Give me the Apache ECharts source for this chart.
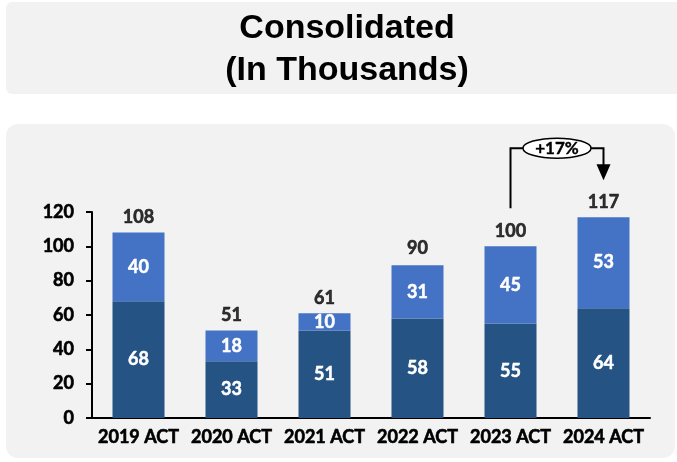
<!DOCTYPE html>
<html>
<head>
<meta charset="utf-8">
<script src="https://cdn.jsdelivr.net/npm/echarts@6/dist/echarts.min.js"></script>
<style>
  html, body { margin: 0; padding: 0; background: #ffffff; }
  #chart { width: 677px; height: 462px; }
</style>
</head>
<body>
<div id="chart"></div>
<script>
// chart data
var years = ["2019 ACT", "2020 ACT", "2021 ACT", "2022 ACT", "2023 ACT", "2024 ACT"];
var baseValues = [68, 33, 51, 58, 55, 64];
var topValues = [40, 18, 10, 31, 45, 53];
var totals = [108, 51, 61, 90, 100, 117];
var growthLabel = "+17%";

var numFont = "Lato";
var numWeight = "bold";
var darkBlue = "#245384";
var lightBlue = "#4472c4";

var myChart = echarts.init(document.getElementById("chart"));

var panels = [
  { type: "rect", z: -10, shape: { x: 6, y: 2, width: 690, height: 92, r: 6 }, style: { fill: "#f2f2f2" } },
  { type: "rect", z: -10, shape: { x: 6, y: 124, width: 669, height: 334, r: 12 }, style: { fill: "#f2f2f2" } }
];

// dark labels get a thin stroke so they look as heavy as the original
function darkText(extra) {
  return Object.assign({
    color: "#000",
    fontFamily: numFont,
    fontWeight: numWeight,
    fontSize: 18,
    textBorderColor: "#000",
    textBorderWidth: 0.6
  }, extra || {});
}

var option = {
  animation: false,
  backgroundColor: "#ffffff",
  title: {
    text: "Consolidated\n(In Thousands)",
    left: 342,
    top: 3,
    textAlign: "center",
    textStyle: {
      fontFamily: "Liberation Sans",
      fontWeight: "bold",
      fontSize: 34,
      lineHeight: 42,
      color: "#000"
    }
  },
  graphic: panels,
  grid: { left: 92, right: 27, top: 212, bottom: 44 },
  xAxis: {
    type: "category",
    data: years,
    axisLine: { lineStyle: { color: "#000", width: 2 } },
    axisTick: { show: false },
    axisLabel: darkText({ interval: 0, margin: 10 })
  },
  yAxis: {
    type: "value",
    min: 0,
    max: 120,
    interval: 20,
    splitLine: { show: false },
    axisLine: { show: true, lineStyle: { color: "#000", width: 2 } },
    axisTick: { show: true, length: 6, lineStyle: { color: "#000", width: 2 } },
    axisLabel: darkText({ margin: 18 })
  },
  series: [
    {
      name: "base",
      type: "bar",
      stack: "total",
      barWidth: 52,
      data: baseValues,
      itemStyle: { color: darkBlue },
      label: {
        show: true,
        position: "inside",
        color: "#fff",
        fontFamily: numFont,
        fontWeight: numWeight,
        fontSize: 18,
        textBorderColor: "#fff",
        textBorderWidth: 0.5
      }
    },
    {
      name: "top",
      type: "bar",
      stack: "total",
      barWidth: 52,
      data: topValues,
      itemStyle: { color: lightBlue },
      label: {
        show: true,
        position: "inside",
        color: "#fff",
        fontFamily: numFont,
        fontWeight: numWeight,
        fontSize: 18,
        textBorderColor: "#fff",
        textBorderWidth: 0.5
      }
    },
    {
      name: "total",
      type: "scatter",
      data: totals,
      symbolSize: 0,
      silent: true,
      label: darkText({ show: true, position: "top", distance: 6 })
    }
  ]
};

myChart.setOption(option);

// growth bracket between the last two bars
var n = years.length;
var p23 = myChart.convertToPixel({ seriesIndex: 2 }, [n - 2, totals[n - 2]]);
var p24 = myChart.convertToPixel({ seriesIndex: 2 }, [n - 1, totals[n - 1]]);
var yBracket = p24[1] - 69;
var yStart = p23[1] - 38;
var arrowTip = p24[1] - 37;
var midX = (p23[0] + p24[0]) / 2;

myChart.setOption({
  graphic: panels.concat([
    {
      type: "polyline",
      shape: { points: [[p23[0], yStart], [p23[0], yBracket], [p24[0], yBracket], [p24[0], arrowTip - 14]] },
      style: { stroke: "#000", lineWidth: 2, fill: null }
    },
    {
      type: "polygon",
      shape: { points: [[p24[0] - 7, arrowTip - 16], [p24[0] + 7, arrowTip - 16], [p24[0], arrowTip]] },
      style: { fill: "#000" }
    },
    {
      type: "ellipse",
      shape: { cx: midX, cy: yBracket, rx: 34, ry: 10 },
      style: { fill: "#ffffff", stroke: "#000", lineWidth: 1.5 }
    },
    {
      type: "text",
      x: midX,
      y: yBracket,
      style: {
        text: growthLabel,
        fill: "#000",
        stroke: "#000",
        lineWidth: 0.4,
        font: "bold 17px Lato",
        align: "center",
        verticalAlign: "middle"
      }
    }
  ])
});
</script>
</body>
</html>
